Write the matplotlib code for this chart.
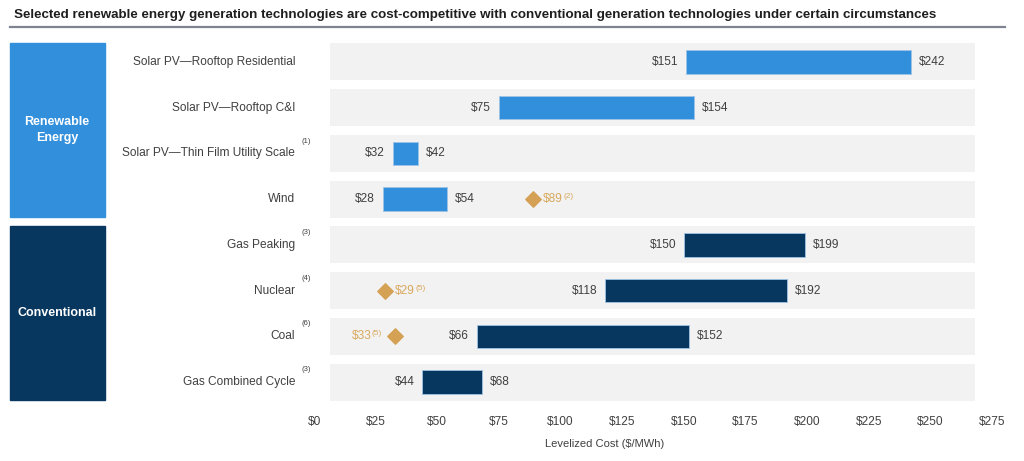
import matplotlib.pyplot as plt
from matplotlib.patches import Rectangle
from matplotlib.lines import Line2D

plt.rcParams['font.family'] = ['Liberation Sans', 'DejaVu Sans']

technologies = ["Solar PV\u2014Rooftop Residential", "Solar PV\u2014Rooftop C&I",
                "Solar PV\u2014Thin Film Utility Scale", "Wind",
                "Gas Peaking", "Nuclear", "Coal", "Gas Combined Cycle"]
footnotes = ["", "", "(1)", "", "(3)", "(4)", "(6)", "(3)"]
cost_low = [151, 75, 32, 28, 150, 118, 66, 44]
cost_high = [242, 154, 42, 54, 199, 192, 152, 68]
group = ["Renewable"] * 4 + ["Conventional"] * 4

# marker points (row, value, footnote, label side)
marker_rows = [3, 5, 6]
marker_vals = [89, 29, 33]
marker_notes = ["(2)", "(5)", "(5)"]
marker_side = ["right", "right", "left"]

ticks = [0, 25, 50, 75, 100, 125, 150, 175, 200, 225, 250, 275]

light_blue = "#318fdc"
navy = "#07365f"
gold = "#d4a155"
gold_txt = "#d9a85e"
band_gray = "#f2f2f2"
txt = "#404040"

fig = plt.figure(figsize=(10.24, 4.61), dpi=100)
ax = fig.add_axes([314 / 1024, 1 - 402.6 / 461, 678 / 1024, (402.6 - 41.4) / 461])

rows = list(range(len(technologies)))
band_left, band_right = 6.6, 268.3
ax.barh(rows, [band_right - band_left] * len(rows), left=band_left,
        height=0.81, color=band_gray, zorder=1)

colors = [light_blue if g == "Renewable" else navy for g in group]
widths = [h - l for l, h in zip(cost_low, cost_high)]
ax.barh(rows, widths, left=cost_low, height=0.51, color=colors,
        edgecolor="#9fc3e6", linewidth=0.6, zorder=2)

fs = 8.6
for i in rows:
    ax.text(cost_low[i] - 3.2, i, "$%d" % cost_low[i], ha="right", va="center",
            fontsize=fs, color=txt, zorder=3)
    ax.text(cost_high[i] + 3.2, i, "$%d" % cost_high[i], ha="left", va="center",
            fontsize=fs, color=txt, zorder=3)

ax.scatter(marker_vals, marker_rows, marker="D", s=62, color=gold, zorder=3)
for r, v, n, side in zip(marker_rows, marker_vals, marker_notes, marker_side):
    if side == "right":
        t = ax.text(v + 4.0, r, "$%d" % v, ha="left", va="center",
                    fontsize=fs, color=gold_txt, zorder=3)
    else:
        t = ax.text(v - 9.5, r, "$%d" % v, ha="right", va="center",
                    fontsize=fs, color=gold_txt, zorder=3)
    ax.annotate(n, xy=(1, 1.0), xycoords=t, ha="left", va="top",
                fontsize=6, color=gold_txt)

# category labels + footnotes
ytr = ax.get_yaxis_transform()
for i in rows:
    ax.text(-0.028, i, technologies[i], transform=ytr, ha="right", va="center",
            fontsize=fs, color=txt)
    if footnotes[i]:
        ax.text(-0.018, i - 0.27, footnotes[i], transform=ytr, ha="left",
                va="center", fontsize=5.5, color=txt)

ax.set_xlim(0, 275)
ax.set_ylim(7.45, -0.45)
ax.set_xticks(ticks)
ax.set_xticklabels(["$%d" % t for t in ticks], fontsize=fs, color=txt)
ax.set_yticks([])
ax.tick_params(axis="x", length=0, pad=10)
for sp in ax.spines.values():
    sp.set_visible(False)
ax.set_xlabel("Levelized Cost ($/MWh)", fontsize=8, color=txt)
ax.xaxis.set_label_coords(118 / 275, -0.1)

# group boxes
fig.add_artist(Rectangle((10 / 1024, 1 - 217 / 461), 95 / 1024, 174 / 461,
                         transform=fig.transFigure, color=light_blue))
fig.add_artist(Rectangle((10 / 1024, 1 - 400 / 461), 95 / 1024, 174 / 461,
                         transform=fig.transFigure, color=navy))
fig.text(57 / 1024, 1 - 130 / 461, "Renewable\nEnergy", ha="center", va="center",
         fontsize=9, fontweight="bold", color="white", linespacing=1.35)
fig.text(57 / 1024, 1 - 313 / 461, "Conventional", ha="center", va="center",
         fontsize=9, fontweight="bold", color="white")

# title and rule
fig.text(14 / 1024, 1 - 15 / 461,
         "Selected renewable energy generation technologies are cost-competitive "
         "with conventional generation technologies under certain circumstances",
         ha="left", va="center", fontsize=9.6, fontweight="bold", color="#1f1f1f")
fig.add_artist(Line2D([10 / 1024, 1005 / 1024], [1 - 27 / 461, 1 - 27 / 461],
                      transform=fig.transFigure, color="#7f8490", linewidth=1.6))

fig.savefig("out.png", dpi=100)
plt.close("all")
